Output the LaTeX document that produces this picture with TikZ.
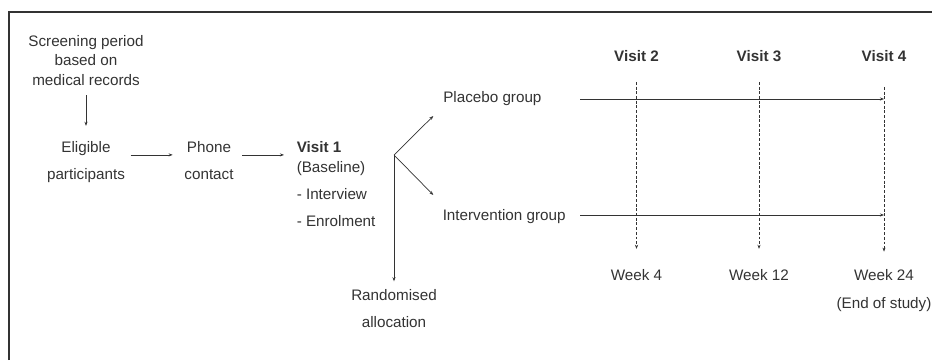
\documentclass[tikz,border=0pt]{standalone}
\usepackage{fontspec}
\setmainfont{Liberation Sans}
\usetikzlibrary{arrows.meta}
\definecolor{ink}{gray}{0.2}
\tikzset{
	txt/.style={font=\fontsize{13}{17}\selectfont, text=ink, inner sep=3pt, align=center},
	vis/.style={txt, font=\fontsize{13}{17}\selectfont\bfseries},
	arr/.style={-{Stealth[length=3.5pt,width=2.6pt]}, line width=0.6pt, draw=ink},
	dashln/.style={arr, dash pattern=on 2.5pt off 1.5pt}
}
\begin{document}
\begin{tikzpicture}[x=0.03cm,y=0.03cm]
	\useasboundingbox (0,0) rectangle (932,360);
	\draw[line width=1.3pt,draw=ink] (9,0) -- (9,348) -- (932,348);

	% left part
	\node[txt] (scr) at (86,299.5) {Screening period\\based on\\medical records};
	\node[txt] (elig) at (86,197.8) {Eligible\\[6pt]participants};
	\node[txt] (phone) at (209,199.4) {Phone\\[6pt]contact};
	\node[txt,anchor=west,align=left] (v1) at (293,175.8) {\textbf{Visit 1}\\(Baseline)\\[6pt]- Interview\\[6pt]- Enrolment};

	\draw[arr,shorten <=0.16cm,shorten >=0.36cm] (scr) -- (elig);
	\draw[arr,shorten <=0.06cm,shorten >=0.24cm] ([yshift=0.22cm]elig.east) -- ([yshift=0.22cm]elig.east -| phone.west);
	\draw[arr,shorten <=0.15cm,shorten >=0.27cm] ([yshift=0.17cm]phone.east) -- ([yshift=0.17cm]phone.east -| v1.west);

	% randomisation
	\node[txt] (rand) at (394,51.9) {Randomised\\[6pt]allocation};
	\node[txt,anchor=west] (plac) at (439.5,261) {Placebo group};
	\node[txt,anchor=west] (intv) at (439,143) {Intervention group};

	\coordinate (br) at (394,205);
	\coordinate (pl-tip) at (433.3,244);
	\coordinate (iv-tip) at (433.3,165);
	\draw[arr] (br) -- (pl-tip);
	\draw[arr] (br) -- (iv-tip);
	\draw[arr,shorten >=0.12cm] (br) -- (rand);

	% visits
	\node[vis] (v2) at (636.5,304.1) {Visit 2};
	\node[vis] (v3) at (759,304.1) {Visit 3};
	\node[vis] (v4) at (884,304.1) {Visit 4};
	\node[txt] (wk4) at (636.5,85.1) {Week 4};
	\node[txt] (wk12) at (759,85.1) {Week 12};
	\node[txt] (wk24) at (884,69.4) {Week 24\\[7pt](End of study)};

	\foreach \v/\w in {v2/wk4,v3/wk12}
		\draw[dashln,shorten <=0.5cm,shorten >=0.5cm] (\v) -- (\w);
	\draw[dashln,shorten <=0.65cm,shorten >=0.42cm] (v4) -- (wk24);

	\coordinate (pl-start) at (580,261);
	\coordinate (iv-start) at (580,145);
	\draw[arr] (pl-start) -- (pl-start -| v4);
	\draw[arr] (iv-start) -- (iv-start -| v4);

\end{tikzpicture}
\end{document}
